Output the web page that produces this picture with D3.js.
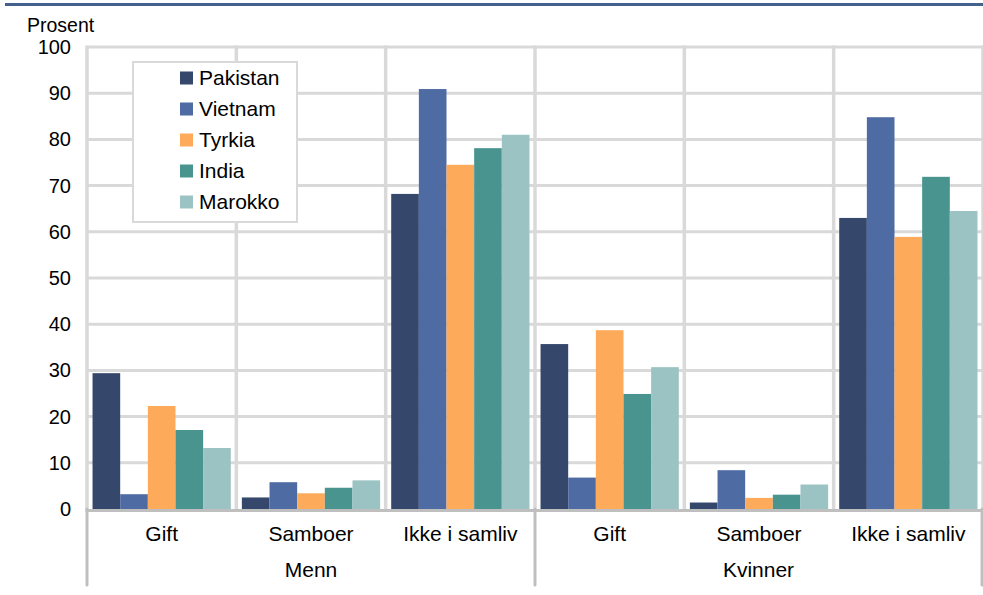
<!DOCTYPE html>
<html><head><meta charset="utf-8">
<script src="https://cdn.jsdelivr.net/npm/d3@7"></script>
<style>body{margin:0;background:#fff}svg{display:block;font-family:"Liberation Sans",Arial,sans-serif}</style>
</head><body>
<svg id="c" width="983" height="595"></svg>
<script>
const groups = ["Menn", "Kvinner"];
const categories = ["Gift", "Samboer", "Ikke i samliv"];
const series = ["Pakistan", "Vietnam", "Tyrkia", "India", "Marokko"];
const colors = ["#35486c", "#4f6ba3", "#fdaa5a", "#4a9490", "#9bc3c3"];
// values per series, order: Menn Gift, Menn Samboer, Menn Ikke, Kvinner Gift, Kvinner Samboer, Kvinner Ikke
const pakistan = [29.4, 2.5, 68.2, 35.7, 1.4, 63.0];
const vietnam  = [3.2, 5.8, 90.9, 6.8, 8.4, 84.8];
const tyrkia   = [22.3, 3.4, 74.5, 38.7, 2.4, 58.9];
const india    = [17.1, 4.6, 78.1, 24.9, 3.1, 71.9];
const marokko  = [13.2, 6.2, 81.0, 30.7, 5.3, 64.5];
const yTicks = [0, 10, 20, 30, 40, 50, 60, 70, 80, 90, 100];
const yLabel = "Prosent";

const values = [pakistan, vietnam, tyrkia, india, marokko];
const slots = [];
groups.forEach(g => categories.forEach(c => slots.push(g + "|" + c)));

const svg = d3.select("#c");
const L = 87, R = 983, T = 47, B = 509;

const x0 = d3.scaleBand().domain(slots).range([L, R]).paddingInner(0).paddingOuter(0);
const x1 = d3.scaleBand().domain(series).range([0, x0.bandwidth()]).paddingInner(0).paddingOuter(0.2);
const y = d3.scaleLinear().domain([0, 100]).range([B, T]);

// top rule
svg.append("line").attr("x1", 5).attr("x2", 983).attr("y1", 4.5).attr("y2", 4.5)
  .attr("stroke", "#44608c").attr("stroke-width", 3);

// horizontal gridlines
svg.append("g").selectAll("line").data(yTicks.filter(d => d > 0)).join("line")
  .attr("x1", L).attr("x2", R).attr("y1", d => y(d)).attr("y2", d => y(d))
  .attr("stroke", "#d9d9d9").attr("stroke-width", 3);

// vertical gridlines
const vx = slots.map(s => x0(s)).concat([R]);
svg.append("g").selectAll("line").data(vx).join("line")
  .attr("x1", d => d).attr("x2", d => d).attr("y1", T - 1.5).attr("y2", B)
  .attr("stroke", "#d9d9d9").attr("stroke-width", 3.5);

// bars
const barData = [];
series.forEach((s, i) => slots.forEach((sl, j) => barData.push({s, i, sl, v: values[i][j]})));
svg.append("g").selectAll("rect").data(barData).join("rect")
  .attr("x", d => x0(d.sl) + x1(d.s))
  .attr("width", x1.bandwidth())
  .attr("y", d => y(d.v))
  .attr("height", d => y(0) - y(d.v))
  .attr("fill", d => colors[d.i]);

// x axis line
svg.append("line").attr("x1", L - 1.5).attr("x2", R).attr("y1", B + 1.5).attr("y2", B + 1.5)
  .attr("stroke", "#bfbfbf").attr("stroke-width", 3);
// group separators
const sepX = [L, x0(groups[1] + "|" + categories[0]), R - 1];
svg.append("g").selectAll("line").data(sepX).join("line")
  .attr("x1", d => d).attr("x2", d => d).attr("y1", B).attr("y2", 585)
  .attr("stroke", "#bfbfbf").attr("stroke-width", 3).attr("stroke-linecap", "round");

// y tick labels
const yAxis = d3.axisLeft(y).tickValues(yTicks).tickSize(0).tickPadding(0);
const ya = svg.append("g").attr("transform", `translate(${71},0)`).call(yAxis);
ya.select(".domain").remove();
ya.selectAll("text").attr("font-size", 20).attr("fill", "#000")
  .attr("font-family", "Liberation Sans, Arial, sans-serif");

svg.append("text").attr("x", 27).attr("y", 32).attr("font-size", 19.5).text(yLabel);

// category labels
svg.append("g").selectAll("text").data(slots).join("text")
  .attr("x", d => x0(d) + x0.bandwidth() / 2).attr("y", 541)
  .attr("text-anchor", "middle").attr("font-size", 21).text(d => d.split("|")[1]);
// group labels
svg.append("g").selectAll("text").data(groups).join("text")
  .attr("x", (g, i) => (sepX[i] + sepX[i + 1]) / 2).attr("y", 577)
  .attr("text-anchor", "middle").attr("font-size", 21).text(d => d);

// legend
const lg = svg.append("g");
lg.append("rect").attr("x", 133).attr("y", 62).attr("width", 164).attr("height", 160)
  .attr("fill", "#fff").attr("stroke", "#d9d9d9").attr("stroke-width", 2);
series.forEach((s, i) => {
  const cy = 78 + i * 31;
  lg.append("rect").attr("x", 180).attr("y", cy - 6.5).attr("width", 13).attr("height", 13).attr("fill", colors[i]);
  lg.append("text").attr("x", 199).attr("y", cy + 7).attr("font-size", 21).text(s);
});
</script>
</body></html>
